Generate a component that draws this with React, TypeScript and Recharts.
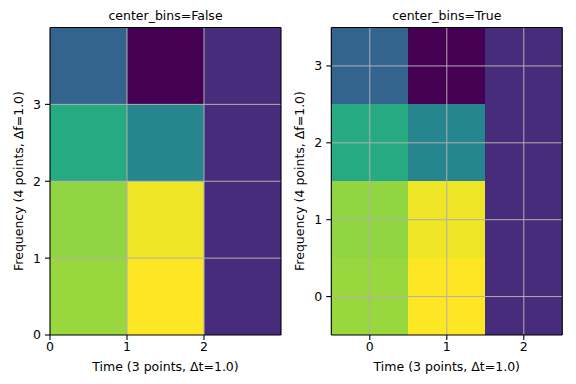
import { ReferenceArea, ReferenceLine, Scatter, ScatterChart, XAxis, YAxis } from 'recharts'

// time bins and frequency bins (Δt = Δf = 1.0)
const times = [0, 1, 2]
const freqs = [0, 1, 2, 3]
// normalised power per time column, from f=0 (bottom) to f=3 (top)
const powerT0 = [0.845, 0.835, 0.61, 0.32]
const powerT1 = [1.0, 0.975, 0.45, 0.0]
const powerT2 = [0.125, 0.125, 0.125, 0.125]
const xTicks = [0, 1, 2]
const yTicks = [0, 1, 2, 3]

const power = [powerT0, powerT1, powerT2]

// viridis, sampled every 0.1
const VIRIDIS = [
  '#440154', '#482475', '#414487', '#355f8d', '#2a788e', '#21918c',
  '#22a884', '#44bf70', '#7ad151', '#bddf26', '#fde725',
]

function hex(c: string) {
  return [1, 3, 5].map((i) => parseInt(c.slice(i, i + 2), 16))
}

function viridis(v: number) {
  const p = Math.max(0, Math.min(1, v)) * 10
  const i = Math.min(9, Math.floor(p))
  const f = p - i
  const a = hex(VIRIDIS[i])
  const b = hex(VIRIDIS[i + 1])
  const rgb = a.map((x, k) => Math.round(x + (b[k] - x) * f))
  return `rgb(${rgb.join(',')})`
}

const FONT = 'DejaVu Sans, sans-serif'
const FS = 12.5
const GRID = '#b0b0b0'

interface PanelProps {
  title: string
  centerBins: boolean
  left: number
  width: number
  marginLeft: number
  marginRight: number
  yLabelX: number
}

function Panel({ title, centerBins, left, width, marginLeft, marginRight, yLabelX }: PanelProps) {
  const off = centerBins ? -0.5 : 0
  const xDomain = [times[0] + off, times[times.length - 1] + 1 + off]
  const yDomain = [freqs[0] + off, freqs[freqs.length - 1] + 1 + off]
  const centers = times.flatMap((t) => freqs.map((f) => ({ t, f })))
  const plotLeft = left + marginLeft + 30
  const plotRight = left + width - marginRight
  const cx = (plotLeft + plotRight) / 2
  const tick = { fill: '#000', fontSize: FS, fontFamily: FONT }
  const text = { position: 'absolute' as const, whiteSpace: 'nowrap' as const, fontSize: FS, lineHeight: 1, fontFamily: FONT }

  return (
    <>
      <div style={{ position: 'absolute', left, top: 0 }}>
        <ScatterChart
          width={width}
          height={384}
          margin={{ top: 27.5, right: marginRight, bottom: 29, left: marginLeft }}
        >
          <XAxis
            type="number"
            dataKey="t"
            domain={xDomain}
            ticks={xTicks}
            allowDataOverflow
            height={20}
            tick={tick}
            tickSize={5}
            tickMargin={2}
            axisLine={{ stroke: '#000', strokeWidth: 1.1 }}
            tickLine={{ stroke: '#000', strokeWidth: 1.1 }}
          />
          <YAxis
            type="number"
            dataKey="f"
            domain={yDomain}
            ticks={yTicks}
            allowDataOverflow
            width={30}
            tick={tick}
            tickSize={5}
            tickMargin={4}
            axisLine={{ stroke: '#000', strokeWidth: 1.1 }}
            tickLine={{ stroke: '#000', strokeWidth: 1.1 }}
          />
          {times.map((t, ti) =>
            freqs.map((f, fi) => (
              <ReferenceArea
                key={`c-${ti}-${fi}`}
                x1={t + off}
                x2={t + 1 + off}
                y1={f + off}
                y2={f + 1 + off}
                fill={viridis(power[ti][fi])}
                fillOpacity={1}
                stroke="none"
                shapeRendering="crispEdges"
                isFront
              />
            )),
          )}
          <Scatter data={centers} shape={() => <g />} isAnimationActive={false} />
          {xTicks
            .filter((x) => x > xDomain[0] && x < xDomain[1])
            .map((x) => (
              <ReferenceLine key={`gx-${x}`} x={x} stroke={GRID} strokeWidth={1} isFront />
            ))}
          {yTicks
            .filter((y) => y > yDomain[0] && y < yDomain[1])
            .map((y) => (
              <ReferenceLine key={`gy-${y}`} y={y} stroke={GRID} strokeWidth={1} isFront />
            ))}
          <ReferenceLine x={xDomain[1]} stroke="#000" strokeWidth={1.1} isFront />
          <ReferenceLine y={yDomain[1]} stroke="#000" strokeWidth={1.1} isFront />
        </ScatterChart>
      </div>
      <div style={{ ...text, left: cx, top: 15.7, transform: 'translate(-50%,-50%)' }}>
        {title}
      </div>
      <div style={{ ...text, left: cx, top: 367, transform: 'translate(-50%,-50%)' }}>
        Time (3 points, Δt=1.0)
      </div>
      <div style={{ ...text, left: yLabelX, top: 181.3, transform: 'translate(-50%,-50%) rotate(-90deg)' }}>
        Frequency (4 points, Δf=1.0)
      </div>
    </>
  )
}

export default function App() {
  return (
    <div style={{ position: 'absolute', left: 0, top: 0, width: 576, height: 384, background: '#fff', fontFamily: FONT, color: '#000' }}>
      <Panel title="center_bins=False" centerBins={false} left={0} width={290} marginLeft={20} marginRight={9} yLabelX={18.5} />
      <Panel title="center_bins=True" centerBins left={290} width={286} marginLeft={11.3} marginRight={13.7} yLabelX={299.5} />
    </div>
  )
}
